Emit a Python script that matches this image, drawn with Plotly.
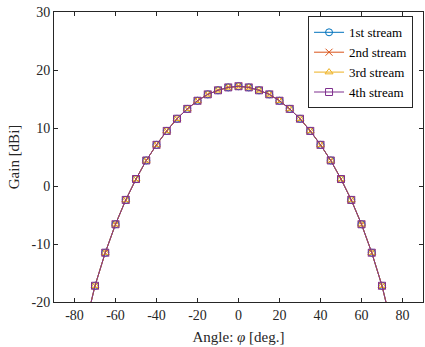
import plotly.graph_objects as go

angles = [-80, -75, -70, -65, -60, -55, -50, -45, -40, -35, -30, -25, -20, -15, -10, -5,
          0, 5, 10, 15, 20, 25, 30, 35, 40, 45, 50, 55, 60, 65, 70, 75, 80]
gain_1 = [-32.0, -24.5, -17.2, -11.5, -6.6, -2.4, 1.2, 4.4, 7.1, 9.5, 11.6, 13.3, 14.7, 15.8, 16.5, 17.0,
          17.2, 17.0, 16.5, 15.8, 14.7, 13.3, 11.6, 9.5, 7.1, 4.4, 1.2, -2.4, -6.6, -11.5, -17.2, -24.5, -32.0]
gain_2 = list(gain_1)
gain_3 = list(gain_1)
gain_4 = list(gain_1)

x_ticks = [-80, -60, -40, -20, 0, 20, 40, 60, 80]
y_ticks = [-20, -10, 0, 10, 20, 30]

names = ["1st stream", "2nd stream", "3rd stream", "4th stream"]
colors = ["#0072BD", "#D95319", "#EDB120", "#7E2F8E"]
symbols = ["circle-open", "x-thin-open", "triangle-up-open", "square-open"]
series = [gain_1, gain_2, gain_3, gain_4]

SERIF = "Liberation Serif, Times New Roman, DejaVu Serif, serif"

fig = go.Figure()
for n, c, s, g in zip(names, colors, symbols, series):
    fig.add_trace(go.Scatter(
        x=angles, y=g, name=n, mode="lines+markers",
        line=dict(color=c, width=1),
        marker=dict(symbol=s, size=7, color=c, line=dict(color=c, width=1)),
        cliponaxis=True,
    ))

axis_common = dict(
    showline=True, linecolor="#262626", linewidth=1, mirror="ticks",
    ticks="inside", ticklen=4, tickcolor="#262626", showgrid=False, zeroline=False,
    tickfont=dict(family=SERIF, size=14, color="#262626"), automargin=False,
    ticklabeloverflow="allow",
)
fig.update_layout(
    width=425, height=347,
    margin=dict(l=54, r=2, t=12, b=45),
    paper_bgcolor="white", plot_bgcolor="white",
    font=dict(family=SERIF, size=14, color="#262626"),
    xaxis=dict(range=[-90, 90], tickvals=x_ticks, ticktext=[str(v) for v in x_ticks],
               title=dict(text="Angle: <i>φ</i> [deg.]", font=dict(family=SERIF, size=15), standoff=9), **axis_common),
    yaxis=dict(range=[-20, 30], tickvals=y_ticks, ticktext=[str(v) for v in y_ticks],
               title=dict(text="Gain [dBi]", font=dict(family=SERIF, size=15), standoff=8), **axis_common),
    legend=dict(x=0.973, y=0.985, xanchor="right", yanchor="top",
                bgcolor="white", bordercolor="#262626", borderwidth=1,
                font=dict(family=SERIF, size=13, color="#000000"),
                tracegroupgap=0, itemwidth=30),
    showlegend=True,
)
fig.write_html("out.html", config={"displayModeBar": False},
               post_script="document.body.style.margin='0px';")
